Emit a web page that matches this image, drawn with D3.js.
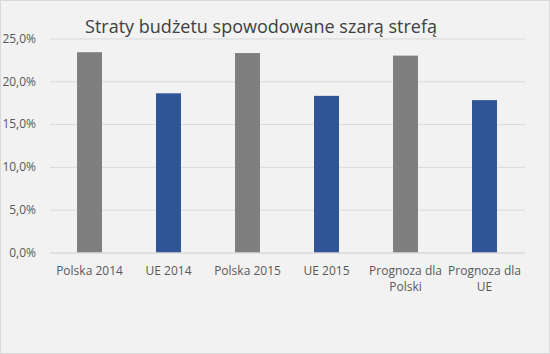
<!DOCTYPE html>
<html><head><meta charset="utf-8">
<script src="https://cdn.jsdelivr.net/npm/d3@7"></script>
<style>body{margin:0;background:#fff}svg{display:block}</style>
</head><body>
<script>
const categories = [["Polska 2014"],["UE 2014"],["Polska 2015"],["UE 2015"],["Prognoza dla","Polski"],["Prognoza dla","UE"]];
const values = [0.234, 0.186, 0.233, 0.183, 0.230, 0.178];
const colors = ["#7f7f7f","#2f5597","#7f7f7f","#2f5597","#7f7f7f","#2f5597"];
const yTicks = [0,0.05,0.10,0.15,0.20,0.25];
const title = "Straty budżetu spowodowane szarą strefą";

const W=550,H=354;
const svg=d3.select("body").append("svg").attr("width",W).attr("height",H);
svg.append("rect").attr("x",0.5).attr("y",0.5).attr("width",W-1).attr("height",H-1).attr("fill","#f2f2f2").attr("stroke","#d9d9d9");
const font="Open Sans, sans-serif";
const x=d3.scaleBand().domain(d3.range(categories.length)).range([50,524]).paddingInner(0.684).paddingOuter(0.342);
const y=d3.scaleLinear().domain([0,0.25]).range([252.5,38.5]);
const fmt=d=>d3.format(".1f")(d*100).replace(".",",")+"%";
const gy=svg.append("g").attr("transform","translate(50,0)").call(d3.axisLeft(y).tickValues(yTicks).tickFormat(fmt).tickSize(-475).tickPadding(14));
gy.select(".domain").remove();
gy.selectAll(".tick line").attr("stroke","#d9d9d9");
gy.selectAll(".tick text").attr("fill","#595959").style("font-family",font).style("font-size","12px");
svg.selectAll("rect.bar").data(values).join("rect").attr("class","bar")
 .attr("x",(d,i)=>x(i)).attr("width",x.bandwidth()).attr("y",d=>y(d)).attr("height",d=>y(0)-y(d)).attr("fill",(d,i)=>colors[i]);
const gx=svg.append("g").attr("transform","translate(0,252.5)").call(d3.axisBottom(x).tickSize(0).tickFormat(""));
gx.select(".domain").attr("stroke","#d9d9d9");
gx.selectAll(".tick").each(function(d){
  const t=d3.select(this).select("text").text(null).attr("fill","#595959").style("font-family",font).style("font-size","12px").attr("y",0).attr("dy",null);
  categories[d].forEach((s,j)=>t.append("tspan").attr("x",0).attr("y",22+j*16).text(s));
});
svg.append("text").attr("x",261).attr("y",33).attr("text-anchor","middle").attr("fill","#404040").style("font-family",font).style("font-size","18px").text(title);
</script>
</body></html>
